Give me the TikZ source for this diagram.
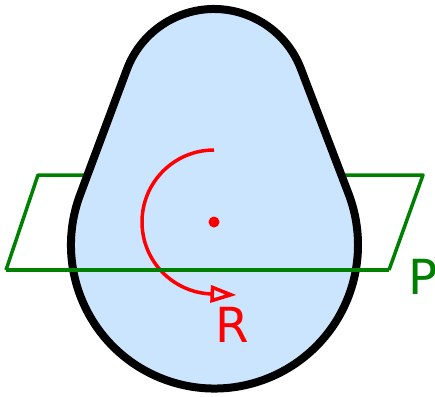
\documentclass[tikz,border=0pt]{standalone}
\usepackage{fontspec}
\setmainfont{DejaVu Sans}
\usetikzlibrary{arrows.meta,calc}
\definecolor{bodyblue}{HTML}{CCE5FF}
\definecolor{planegreen}{HTML}{008000}
\definecolor{axisred}{HTML}{FF0000}
\begin{document}
\begin{tikzpicture}[x=0.02cm,y=0.02cm,line join=round]
  \tikzset{
    plane/.style={draw=planegreen,line width=0.07cm},
    rot/.style={draw=axisred,line width=0.07cm},
    lbl/.style={font=\fontsize{27.5}{30}\selectfont,inner sep=0pt}
  }
  \useasboundingbox (0,0) rectangle (435,396);
  % plane corners
  \coordinate (pa) at (6,126);
  \coordinate (pb) at (389,126);
  \coordinate (pc) at (423,221);
  \coordinate (pd) at (38,221);
  % plane behind the body
  \draw[plane] (pa)--(pd)--(pc)--(pb);
  % body: small circle on top, large one below
  \coordinate (top) at (214,294);
  \coordinate (bot) at (214.5,151);
  \filldraw[fill=bodyblue,draw=black,line width=0.16cm]
    ($(top)+(21:93)$) arc (21:159:93) -- ($(bot)+(159:143.5)$) arc (159:381:143.5) -- cycle;
  % rotation about the axis
  \coordinate (axis) at (214,174);
  \fill[axisred] (axis) circle (5.5);
  \coordinate (tip) at (236.5,101);
  \draw[rot,-{Triangle[open,length=0.52cm,width=0.34cm]}]
    ($(axis)+(90:72)$) arc (90:268:72) -- (tip);
  % front edge of the plane
  \draw[plane] (pa)--(pb);
  \node[lbl,text=axisred] (R) at (232,71) {R};
  \node[lbl,text=planegreen] (P) at (423,119) {P};
\end{tikzpicture}
\end{document}
